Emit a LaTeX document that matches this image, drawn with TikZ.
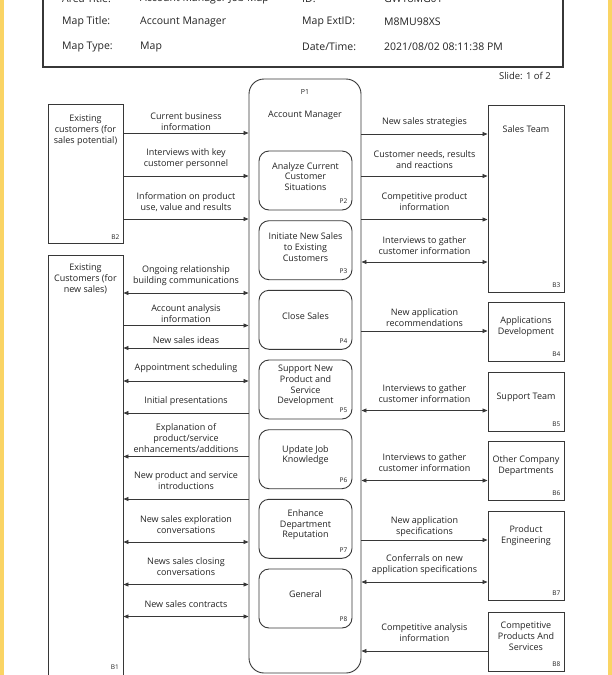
\documentclass[tikz,border=0pt]{standalone}
\usepackage{fontspec}
\setmainfont{Open Sans}
\usetikzlibrary{arrows.meta,calc}
\definecolor{framey}{RGB}{250,212,100}
\definecolor{ln}{RGB}{55,55,55}
\definecolor{txc}{RGB}{35,35,35}
\newcommand\mkconn[6]{%
  \coordinate (cy) at (0,#3);
  \coordinate (ly) at (0,#6);
  \draw[#4] (#1.east |- cy) -- (#2.west |- cy) coordinate[midway] (cm);
  \node[lbl] at (cm |- ly) {#5};
}
\begin{document}
\begin{tikzpicture}[x=1pt,y=-1pt,
  lbl/.style={font=\fontsize{9}{10.8}\selectfont, align=center, inner sep=0pt, text=txc},
  hdr/.style={font=\fontsize{10.5}{12}\selectfont, anchor=west, inner sep=0pt, text=txc},
  box/.style={draw=ln, line width=0.9pt, fill=white, inner sep=0pt},
  pbox/.style={box, rounded corners=10pt, minimum width=93pt, minimum height=59pt},
  rbox/.style={box, minimum width=76pt},
  idl/.style={font=\fontsize{6.5}{7}\selectfont, inner sep=0pt, anchor=east, text=txc},
  arr/.style={draw=ln, line width=0.8pt, -{Triangle[length=5pt,width=4pt]}},
  arl/.style={draw=ln, line width=0.8pt, {Triangle[length=5pt,width=4pt]}-},
  arb/.style={draw=ln, line width=0.8pt, {Triangle[length=5pt,width=4pt]}-{Triangle[length=5pt,width=4pt]}}]
\useasboundingbox (0,0) rectangle (612,675);
\clip (0,0) rectangle (612,675);
\fill[framey] (0,0) rectangle (4,675);
\fill[framey] (608,0) rectangle (612,675);

% header
\draw[ln, line width=1.2pt] (43,-20) rectangle (563,67);
\node[hdr] (h1) at (62,-1) {Area Title:};
\node[hdr] (h2) at (140,-1) {Account Manager Job Map};
\node[hdr] (h3) at (302,-1) {ID:};
\node[hdr] (h4) at (384,-1) {GW18MG01};
\node[hdr] (h5) at (62,22) {Map Title:};
\node[hdr] (h6) at (140,22) {Account Manager};
\node[hdr] (h7) at (302,22) {Map ExtID:};
\node[hdr] (h8) at (384,22) {M8MU98XS};
\node[hdr] (h9) at (62,47) {Map Type:};
\node[hdr] (h10) at (140,47) {Map};
\node[hdr] (h11) at (302,47) {Date/Time:};
\node[hdr] (h12) at (384,47) {2021/08/02 08:11:38 PM};
\node[hdr, anchor=east, font=\fontsize{9.5}{11}\selectfont] (slide) at (551,76) {Slide: 1 of 2};

% left boxes
\node[box, minimum width=75pt, minimum height=139pt] (B2) at (85.5,173.5) {};
\node[lbl] (B2t) at (85.5,130) {Existing\\customers (for\\sales potential)};
\node[idl] (B2i) at ($(B2.south east)+(-4,-6)$) {B2};
\node[box, minimum width=75pt, minimum height=440pt] (B1) at (85.5,475) {};
\node[lbl] (B1t) at (85.5,279) {Existing\\Customers (for\\new sales)};
\node[idl] (B1i) at (119,667) {B1};

% P1
\node[box, rounded corners=15pt, minimum width=112pt, minimum height=594pt] (P1) at (305,376) {};
\node[lbl, font=\fontsize{7}{8}\selectfont] (P1i) at (305,92) {P1};
\node[lbl] (P1t) at (305,115) {Account Manager};

% inner processes
\node[pbox] (P2) at (305.5,180.5) {};
\node[pbox] (P3) at (305.5,250.2) {};
\node[pbox] (P4) at (305.5,319.8) {};
\node[pbox] (P5) at (305.5,389.5) {};
\node[pbox] (P6) at (305.5,459.2) {};
\node[pbox] (P7) at (305.5,528.8) {};
\node[pbox] (P8) at (305.5,598.5) {};
\node[lbl] (P2t) at ($(P2.center)+(0,-4)$) {Analyze Current\\Customer\\Situations};
\node[lbl] (P3t) at ($(P3.center)+(0,-3)$) {Initiate New Sales\\to Existing\\Customers};
\node[lbl] (P4t) at ($(P4.center)+(0,-4)$) {Close Sales};
\node[lbl] (P5t) at ($(P5.center)+(0,-4)$) {Support New\\Product and\\Service\\Development};
\node[lbl] (P6t) at ($(P6.center)+(0,-4)$) {Update Job\\Knowledge};
\node[lbl] (P7t) at ($(P7.center)+(0,-4)$) {Enhance\\Department\\Reputation};
\node[lbl] (P8t) at ($(P8.center)+(0,-4)$) {General};
\foreach \p in {P2,P3,P4,P5,P6,P7,P8}{
  \node[idl] (\p i) at ($(\p.south east)+(-5,-9)$) {\p};
}

% right boxes
\node[rbox, minimum height=187pt] (B3) at (526,198.5) {};
\node[rbox, minimum height=59pt] (B4) at (526,331.5) {};
\node[rbox, minimum height=59pt] (B5) at (526,401.5) {};
\node[rbox, minimum height=59pt] (B6) at (526,470.5) {};
\node[rbox, minimum height=89pt] (B7) at (526,555.5) {};
\node[rbox, minimum height=59pt] (B8) at (526,641.5) {};
\node[lbl] (B3t) at (526,129) {Sales Team};
\node[lbl] (B4t) at (526,327) {Applications\\Development};
\node[lbl] (B5t) at (526,397) {Support Team};
\node[lbl] (B6t) at (526,466) {Other Company\\Departments};
\node[lbl] (B7t) at (526,535.5) {Product\\Engineering};
\node[lbl] (B8t) at (526,636) {Competitive\\Products And\\Services};
\foreach \b in {B3,B4,B5,B6,B7,B8}{
  \node[idl] (\b i) at ($(\b.south east)+(-4,-7)$) {\b};
}

% left connectors
\mkconn{B2}{P1}{133}{arr}{Current business\\information}{122}
\mkconn{B2}{P1}{176}{arr}{Interviews with key\\customer personnel}{159}
\mkconn{B2}{P1}{219}{arr}{Information on product\\use, value and results}{202.5}
\mkconn{B1}{P1}{293}{arb}{Ongoing relationship\\building communications}{276}
\mkconn{B1}{P1}{325.5}{arr}{Account analysis\\information}{313.5}
\mkconn{B1}{P1}{348}{arl}{New sales ideas}{340.5}
\mkconn{B1}{P1}{381}{arb}{Appointment scheduling}{368.5}
\mkconn{B1}{P1}{413}{arl}{Initial presentations}{401}
\mkconn{B1}{P1}{456.5}{arl}{Explanation of\\product/service\\enhancements/additions}{438}
\mkconn{B1}{P1}{499}{arl}{New product and service\\introductions}{481}
\mkconn{B1}{P1}{542}{arb}{New sales exploration\\conversations}{524.5}
\mkconn{B1}{P1}{584.5}{arb}{News sales closing\\conversations}{567}
\mkconn{B1}{P1}{616.5}{arb}{New sales contracts}{604.5}

% right connectors
\mkconn{P1}{B3}{134}{arr}{New sales strategies}{122}
\mkconn{P1}{B3}{176}{arr}{Customer needs, results\\and reactions}{159.5}
\mkconn{P1}{B3}{219.5}{arr}{Competitive product\\information}{202}
\mkconn{P1}{B3}{262}{arb}{Interviews to gather\\customer information}{245.5}
\mkconn{P1}{B4}{331}{arr}{New application\\recommendations}{318}
\mkconn{P1}{B5}{410.5}{arb}{Interviews to gather\\customer information}{394}
\mkconn{P1}{B6}{480.5}{arb}{Interviews to gather\\customer information}{462.5}
\mkconn{P1}{B7}{540}{arr}{New application\\specifications}{527}
\mkconn{P1}{B7}{582}{arb}{Conferrals on new\\application specifications}{565}
\mkconn{P1}{B8}{651}{arl}{Competitive analysis\\information}{632.5}
\end{tikzpicture}
\end{document}
